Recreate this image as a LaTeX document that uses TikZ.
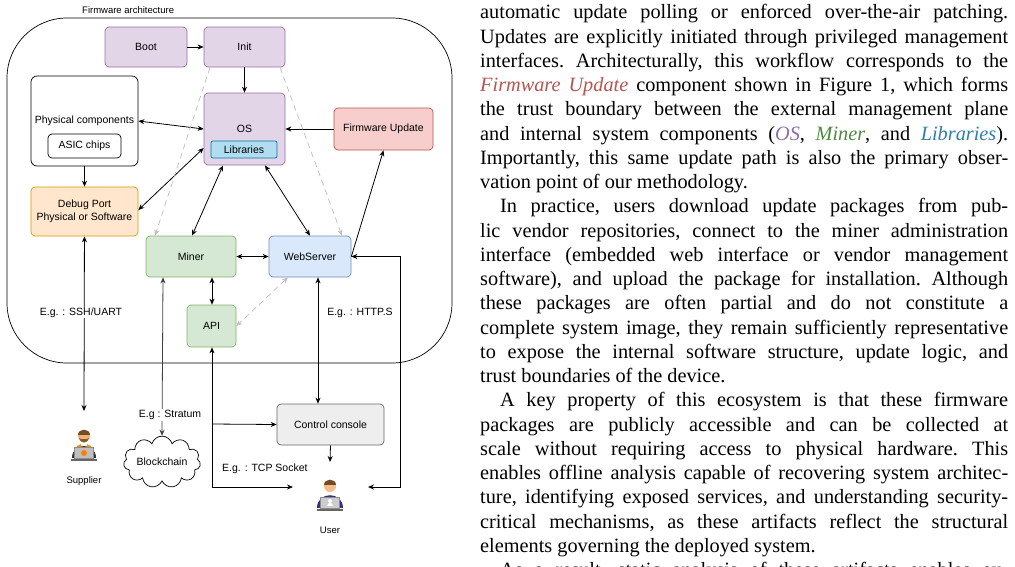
\documentclass[tikz,border=0pt]{standalone}
\usepackage{fontspec}
\setmainfont{Liberation Sans}
\newfontfamily\paperfont{Liberation Serif}
\usetikzlibrary{shapes.symbols,arrows.meta}
\definecolor{fwred}{HTML}{B85450}
\definecolor{ospurple}{HTML}{8E6BB0}
\definecolor{minergreen}{HTML}{4E8A3E}
\definecolor{libblue}{HTML}{2F7FA8}
\begin{document}
\begin{tikzpicture}[x=1pt,y=-1pt,
  box/.style={draw, rounded corners=4pt, line width=0.7pt, align=center, font=\fontsize{10.5}{12.5}\selectfont, inner sep=0pt},
  purple/.style={box, fill={rgb,255:red,225;green,213;blue,231}, draw={rgb,255:red,150;green,115;blue,166}},
  green/.style={box, fill={rgb,255:red,213;green,232;blue,212}, draw={rgb,255:red,130;green,179;blue,102}},
  lbl/.style={font=\fontsize{10.5}{12.5}\selectfont, inner sep=1pt},
  arr/.style={-{Stealth[length=6pt,width=5pt]}, line width=0.8pt},
  barr/.style={{Stealth[length=6pt,width=5pt]}-{Stealth[length=6pt,width=5pt]}, line width=0.8pt},
  darr/.style={-{Stealth[length=6pt,width=5pt]}, line width=0.7pt, draw=black!25, dash pattern=on 6pt off 4pt},
  dbarr/.style={{Stealth[length=6pt,width=5pt]}-{Stealth[length=6pt,width=5pt]}, line width=0.7pt, draw=black!25, dash pattern=on 6pt off 4pt}]
\useasboundingbox (0,0) rectangle (1015,566);
\fill[white] (0,0) rectangle (1015,566);

% outer frame
\draw[line width=0.7pt, rounded corners=60pt] (7,18) rectangle (452,363);
\node[lbl, anchor=west] (fwlabel) at (81,10) {\fontsize{9.5}{11}\selectfont Firmware architecture};

% nodes
\node[purple, minimum width=82pt, minimum height=40pt] (boot) at (146,47) {Boot};
\node[purple, minimum width=81pt, minimum height=40pt] (init) at (244.5,47) {Init};
\node[box, minimum width=107pt, minimum height=90pt, rounded corners=6pt] (phys) at (84.5,121) {};
\node[lbl] (physt) at (84.5,121) {Physical components};
\node[box, minimum width=73pt, minimum height=24pt] (asic) at (84.5,146) {ASIC chips};
\node[purple, minimum width=81pt, minimum height=72pt] (os) at (244.5,129) {};
\node[lbl] (ost) at (244.5,129) {OS};
\node[box, fill={rgb,255:red,177;green,221;blue,240}, draw={rgb,255:red,16;green,115;blue,158}, minimum width=66pt, minimum height=17pt, rounded corners=2pt] (lib) at (244,149.5) {Libraries};
\node[box, fill={rgb,255:red,248;green,206;blue,204}, draw=fwred, minimum width=99pt, minimum height=42pt] (fw) at (383.5,129) {Firmware Update};
\node[box, fill={rgb,255:red,255;green,230;blue,204}, draw={rgb,255:red,215;green,155;blue,0}, minimum width=107pt, minimum height=49pt] (debug) at (84.5,211.5) {Debug Port\\Physical or Software};
\node[green, minimum width=90pt, minimum height=41pt] (miner) at (191,256.5) {Miner};
\node[box, fill={rgb,255:red,218;green,232;blue,252}, draw={rgb,255:red,108;green,142;blue,191}, minimum width=82pt, minimum height=41pt] (web) at (310,256.5) {WebServer};
\node[green, minimum width=49pt, minimum height=42pt] (api) at (211.5,326) {API};
\node[box, fill={rgb,255:red,238;green,238;blue,238}, draw={rgb,255:red,102;green,102;blue,102}, minimum width=107pt, minimum height=41pt] (cc) at (330.5,424.5) {Control console};
\node[cloud, draw, line width=0.7pt, cloud puffs=11, aspect=1.9, minimum width=74pt, minimum height=42pt, inner sep=0pt, font=\fontsize{10.5}{12.5}\selectfont] (chain) at (162,462) {Blockchain};

% persons
\coordinate (sup) at (84,446);
\coordinate (usr) at (330,496);
\begin{scope}[shift={(sup)}]
  \fill[black!80] (-12,12) .. controls (-12,-4) and (12,-4) .. (12,12) -- cycle;
  \fill[orange!90!yellow] (-8,12) -- (-7,0) -- (-3,-2) -- (-2,12) -- cycle;
  \fill[orange!90!yellow] (8,12) -- (7,0) -- (3,-2) -- (2,12) -- cycle;
  \fill[brown!50!orange!60!white] (0,-10) circle (6pt);
  \fill[brown!60!black] (-6,-11) .. controls (-6,-18) and (6,-18) .. (6,-11) -- cycle;
  \fill[brown!70!black] (-5,-8) .. controls (-4,-2) and (4,-2) .. (5,-8) -- (3,-7) -- (-3,-7) -- cycle;
  \fill[black!45] (-10,1) rectangle (10,13);
  \fill[black!25] (-9,2) rectangle (9,12);
  \fill[orange] (0,7) circle (3pt);
  \fill[black!60] (-13,13) rectangle (13,15);
\end{scope}
\begin{scope}[shift={(usr)}]
  \fill[blue!40!black!80] (-13,12) .. controls (-13,-5) and (13,-5) .. (13,12) -- cycle;
  \fill[brown!40!orange!50!white] (0,-10) circle (6pt);
  \fill[brown!60!black] (-6,-11) .. controls (-6,-18) and (6,-18) .. (6,-11) -- cycle;
  \fill[black!45] (-10,1) rectangle (10,13);
  \fill[black!20] (-9,2) rectangle (9,12);
  \fill[white] (0,5) circle (2pt);
  \fill[white] (-3,10) .. controls (-3,6) and (3,6) .. (3,10) -- cycle;
  \fill[black!60] (-13,13) rectangle (13,15);
\end{scope}
\node[lbl, font=\fontsize{9.5}{11}\selectfont] (supl) at (84,481) {Supplier};
\node[lbl, font=\fontsize{9.5}{11}\selectfont] (usrl) at (330,530) {User};
\coordinate (usrL) at (293,487);
\coordinate (usrR) at (368,487);
\coordinate (supT) at (84,411);

% connectors
\draw[arr] (boot) -- (init);
\draw[arr] (init) -- (os);
\draw[barr] (phys.east |- 0,121) -- (os.west |- 0,129);
\draw[barr] (debug.east |- 0,210) -- (os.west |- 0,148);
\draw[arr] (phys) -- (debug);
\draw[barr] (os.south -| 223,0) -- (miner.north -| 192,0);
\draw[barr] (os.south -| 265,0) -- (web.north -| 310,0);
\draw[arr] (fw) -- (os.east |- fw);
\draw[arr] (web.east) -- (fw.south);
\draw[barr] (miner) -- (web);
\draw[barr] (miner.south -| 212,0) -- (api.north -| 212,0);
\draw[darr] (init.south -| 210,0) -- (miner.north -| 155,0);
\draw[darr] (init.south -| 280,0) -- (web.north -| 342,0);
\draw[dbarr] (web.south -| 288,0) -- (api.east);
\draw[barr] (debug) -- (supT);
\node[lbl, fill=white, inner sep=0.5pt] (sshl) at (81,313) {E.g. : SSH/UART};
\draw[barr, draw=black!75] (miner.south -| 163,0) -- (chain.north);
\node[lbl, fill=white] (strl) at (170,415) {E.g : Stratum};
\draw[barr] (api.south -| 212,0) -- (212,487) -- (usrL);
\draw[arr] (212,424) -- (cc.west);
\node[lbl, anchor=west] (tcpl) at (221,469) {E.g. : TCP Socket};
\draw[barr] (web.south -| 318,0) -- (cc.north -| 318,0);
\node[lbl, fill=white, inner sep=0.5pt] (httpl) at (360,313) {E.g. : HTTP.S};
\draw[arr] (cc.south) -- (330,462);
\draw[barr] (web.east) -- (400,256.5) -- (400,487) -- (usrR);

% paper text
\node[anchor=north west, text width=528pt, inner sep=0pt, align=justify] (txt) at (480,4.5) {\paperfont\fontsize{20.3}{24.25}\selectfont\frenchspacing
\setlength{\parindent}{20pt}\noindent
automatic update polling or enforced over-the-air patching.\linebreak
Updates are explicitly initiated through privileged management\linebreak
interfaces. Architecturally, this workflow corresponds to the\linebreak
{\color{fwred}\itshape Firmware Update} component shown in Figure 1, which forms\linebreak
the trust boundary between the external management plane\linebreak
and internal system components ({\color{ospurple}\itshape OS}, {\color{minergreen}\itshape Miner}, and {\color{libblue}\itshape Libraries}).\linebreak
Importantly, this same update path is also the primary obser-\linebreak
vation point of our methodology.\par
In practice, users download update packages from pub-\linebreak
lic vendor repositories, connect to the miner administration\linebreak
interface (embedded web interface or vendor management\linebreak
software), and upload the package for installation. Although\linebreak
these packages are often partial and do not constitute a\linebreak
complete system image, they remain sufficiently representative\linebreak
to expose the internal software structure, update logic, and\linebreak
trust boundaries of the device.\par
A key property of this ecosystem is that these firmware\linebreak
packages are publicly accessible and can be collected at\linebreak
scale without requiring access to physical hardware. This\linebreak
enables offline analysis capable of recovering system architec-\linebreak
ture, identifying exposed services, and understanding security-\linebreak
critical mechanisms, as these artifacts reflect the structural\linebreak
elements governing the deployed system.\par
As a result, static analysis of these artifacts enables ex-\linebreak
amination\par};
\end{tikzpicture}
\end{document}
